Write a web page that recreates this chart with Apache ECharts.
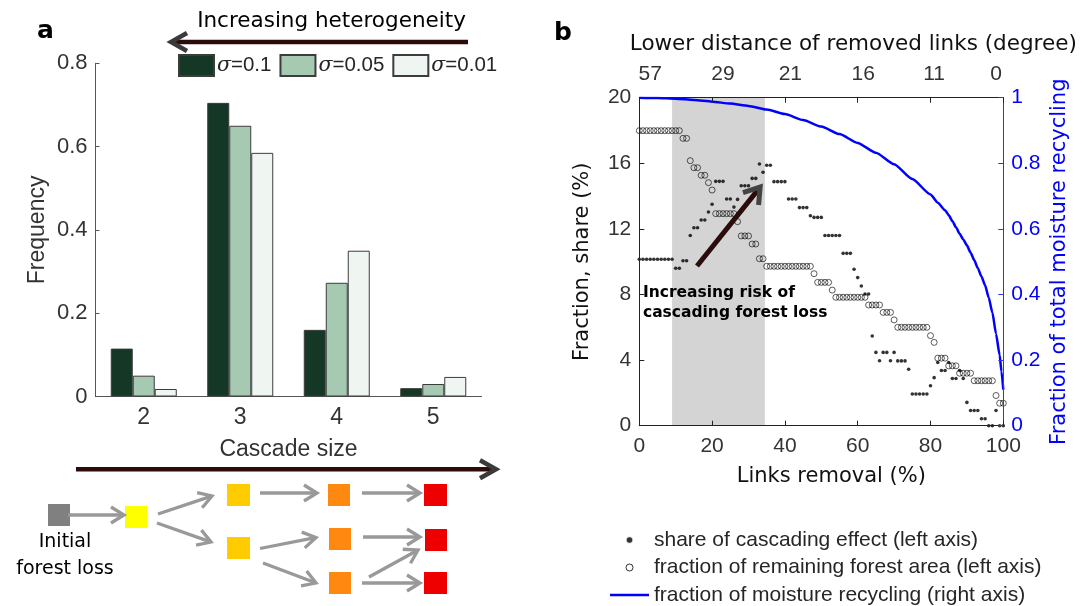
<!DOCTYPE html>
<html><head><meta charset="utf-8">
<script src="https://cdn.jsdelivr.net/npm/echarts@6/dist/echarts.min.js"></script>
<style>html,body{margin:0;padding:0;background:#fff}#c{width:1087px;height:606px}</style>
</head><body><div id="c"></div>
<script>
// ---------- Panel a data ----------
const cascadeSizes = ['2', '3', '4', '5'];
const sigmaNames = ['σ=0.1', 'σ=0.05', 'σ=0.01'];
const freqSigma01 = [0.115, 0.705, 0.160, 0.020];
const freqSigma005 = [0.050, 0.650, 0.273, 0.030];
const freqSigma001 = [0.018, 0.585, 0.350, 0.047];

// ---------- Panel b data ----------
const linksRemoval = [0,1,2,3,4,5,6,7,8,9,10,11,12,13,14,15,16,17,18,19,20,21,22,23,24,25,26,27,28,29,30,31,32,33,34,35,36,37,38,39,40,41,42,43,44,45,46,47,48,49,50,51,52,53,54,55,56,57,58,59,60,61,62,63,64,65,66,67,68,69,70,71,72,73,74,75,76,77,78,79,80,81,82,83,84,85,86,87,88,89,90,91,92,93,94,95,96,97,98,99,100];
const cascadeShare = [
  10.15,10.15,10.15,10.15,10.15,10.15,10.15,10.15,10.15,10.15,
  9.6,9.6,10.06,10.06,11.6,12.07,12.07,12.54,12.54,13.03,
  13.5,14.9,14.9,14.9,13.82,13.82,13.33,13.8,14.63,14.63,
  14.63,15.08,15.08,15.96,15.45,15.88,15.88,14.88,14.88,14.88,
  14.88,13.82,13.82,13.82,13.3,13.3,13.3,12.8,12.7,12.7,
  12.7,11.6,11.6,11.6,11.6,11.6,10.51,10.51,10.51,9.54,
  9.03,8.52,8.03,8.03,5.47,4.47,3.96,4.47,4.47,3.96,
  4.47,3.95,3.95,3.95,3.44,1.93,1.93,1.93,1.93,1.93,
  2.44,2.93,3.85,3.37,3.37,3.85,2.88,2.88,3.37,2.88,
  1.42,0.93,0.93,0.93,0.42,0.42,0,0,0.93,0,
  0];
const remainingForest = [
  17.99,17.99,17.99,17.99,17.99,17.99,17.99,17.99,17.99,17.99,
  17.99,17.99,17.52,17.52,16.16,15.73,15.73,15.27,15.27,14.82,
  14.37,12.93,12.93,12.93,12.93,12.93,12.93,12.44,11.57,11.57,
  11.57,11.08,11.08,10.18,10.18,9.72,9.72,9.72,9.72,9.72,
  9.72,9.72,9.72,9.72,9.72,9.72,9.72,9.72,9.27,8.74,
  8.74,8.74,8.74,8.27,7.83,7.83,7.83,7.83,7.83,7.83,
  7.83,7.83,7.83,7.36,7.36,7.36,7.36,6.91,6.91,6.91,
  6.45,6.0,6.0,6.0,6.0,6.0,6.0,6.0,6.0,6.0,
  5.49,5.08,4.12,4.12,4.12,3.65,3.65,3.65,3.2,3.2,
  3.2,3.2,2.74,2.74,2.74,2.74,2.74,2.74,1.84,1.37,
  1.37];
const moistureX = [0,5,10,15,20,25,30,35,40,45,50,55,60,65,70,75,80,82,84,85,86,87,88,89,90,91,92,93,94,95,96,97,98,99,99.5,100];
const moistureFrac = [1.0,0.999,0.997,0.993,0.988,0.982,0.975,0.964,0.950,0.932,0.912,0.889,0.862,0.832,0.797,0.752,0.705,0.68,0.657,0.642,0.624,0.605,0.585,0.568,0.55,0.528,0.505,0.48,0.455,0.428,0.39,0.345,0.28,0.215,0.165,0.11];
const topTickAt = [3, 23, 41.5, 61.5, 81, 98];
const topTickLabels = ['57', '29', '21', '16', '11', '0'];
const riskBand = [9, 34.5];
const riskArrow = [[15.85, 9.74], [33.2, 14.55]];
const riskLabelAt = [1.0, 7.5];
const legendB = ['share of cascading effect (left axis)', 'fraction of remaining forest area (left axis)', 'fraction of moisture recycling (right axis)'];

const SANS = 'Liberation Sans, Arial, sans-serif';
const VERD = 'DejaVu Sans, Verdana, sans-serif';

const chart = echarts.init(document.getElementById('c'));

const option = {
  animation: false,
  backgroundColor: '#fff',
  grid: [
    {left: 95.5, top: 63.3, width: 386, height: 333.2, outerBoundsMode: 'none'},
    {left: 639.3, top: 97.7, width: 364, height: 328, outerBoundsMode: 'none'}
  ],
  legend: [
    {
      data: sigmaNames, left: 178, top: 54, padding: 0, itemWidth: 35, itemHeight: 21, itemGap: 8,
      selectedMode: false, icon: 'rect',
      formatter: n => '{s|σ}' + n.slice(1),
      textStyle: {fontSize: 20.5, fontFamily: SANS, color: '#262626', padding: [0,0,0,-2],
        rich: {s: {fontSize: 20.5, fontStyle: 'italic', fontFamily: 'DejaVu Serif, serif', color: '#262626'}}}
    },
    {
      data: [
        {name: legendB[0], icon: 'circle', itemStyle: {color: '#000', borderColor: '#fff', borderWidth: 1.5}},
        {name: legendB[1], icon: 'circle', itemStyle: {color: 'rgba(0,0,0,0)', borderColor: '#000', borderWidth: 1}},
        {name: legendB[2], icon: 'path://M0,0H40V2.6H0Z', itemStyle: {color: '#0000ff'}}
      ],
      orient: 'vertical', left: 610, top: 529.5, height: 120, padding: 0,
      itemWidth: 39, itemHeight: 7, itemGap: 6.5,
      selectedMode: false,
      textStyle: {fontSize: 21, fontFamily: SANS, color: '#262626', lineHeight: 20}
    }
  ],
  xAxis: [
    {
      gridIndex: 0, type: 'category', data: cascadeSizes,
      axisLine: {lineStyle: {color: '#555', width: 1}}, axisTick: {show: false},
      axisLabel: {fontSize: 23, color: '#333', margin: 10, fontFamily: SANS},
      name: 'Cascade size', nameLocation: 'middle', nameGap: 42,
      nameTextStyle: {fontSize: 23, color: '#333', fontFamily: SANS}
    },
    {
      gridIndex: 1, type: 'value', position: 'bottom', min: 0, max: 100, interval: 20, z: 5,
      axisLine: {show: true, onZero: false, lineStyle: {color: '#222', width: 1}},
      axisTick: {show: true, inside: true, length: 5, lineStyle: {color: '#222'}},
      axisLabel: {fontSize: 21, color: '#333', margin: 10, fontFamily: SANS},
      splitLine: {show: false},
      name: 'Links removal (%)', nameLocation: 'middle', nameGap: 40,
      nameTextStyle: {fontSize: 21, fontFamily: VERD, color: '#111', padding: [0, 0, 0, 20]}
    },
    {
      gridIndex: 1, type: 'value', position: 'top', min: 0, max: 100, interval: 20, z: 5,
      axisLine: {show: true, onZero: false, lineStyle: {color: '#222', width: 1}},
      axisTick: {show: true, inside: true, length: 5, lineStyle: {color: '#222'}},
      axisLabel: {
        customValues: topTickAt, fontSize: 21, color: '#333', margin: 13, fontFamily: SANS,
        formatter: v => { const i = topTickAt.findIndex(t => Math.abs(t - v) < 1e-6); return i >= 0 ? topTickLabels[i] : ''; }
      },
      splitLine: {show: false},
      name: 'Lower distance of removed links (degree)', nameLocation: 'middle', nameGap: 42,
      nameTextStyle: {fontSize: 21.5, fontFamily: VERD, color: '#111', padding: [0, 0, 0, 64]}
    }
  ],
  yAxis: [
    {
      gridIndex: 0, type: 'value', min: 0, max: 0.8, interval: 0.2,
      axisLine: {show: true, lineStyle: {color: '#555', width: 1}},
      axisTick: {show: true, inside: true, length: 4, lineStyle: {color: '#555'}},
      splitLine: {show: false},
      axisLabel: {fontSize: 22, color: '#333', margin: 8, fontFamily: SANS},
      name: 'Frequency', nameLocation: 'middle', nameGap: 46, nameRotate: 90,
      nameTextStyle: {fontSize: 23, color: '#333', fontFamily: SANS}
    },
    {
      gridIndex: 1, type: 'value', position: 'left', min: 0, max: 20, interval: 4, z: 5,
      axisLine: {show: true, onZero: false, lineStyle: {color: '#222', width: 1}},
      axisTick: {show: true, inside: true, length: 5, lineStyle: {color: '#222'}},
      splitLine: {show: false},
      axisLabel: {fontSize: 21, color: '#333', margin: 8, fontFamily: SANS},
      name: 'Fraction, share (%)', nameLocation: 'middle', nameGap: 46, nameRotate: 90,
      nameTextStyle: {fontSize: 21, color: '#111', fontFamily: VERD}
    },
    {
      gridIndex: 1, type: 'value', position: 'right', min: 0, max: 1, interval: 0.2, z: 5,
      axisLine: {show: true, onZero: false, lineStyle: {color: '#3030ff', width: 1}},
      axisTick: {show: true, inside: true, length: 5, lineStyle: {color: '#3030ff'}},
      splitLine: {show: false},
      axisLabel: {fontSize: 21, color: '#0000ff', margin: 8, fontFamily: SANS},
      name: 'Fraction of total moisture recycling', nameLocation: 'middle', nameGap: 46, nameRotate: 90,
      nameTextStyle: {fontSize: 21, color: '#0000ff', fontFamily: VERD}
    }
  ],
  series: [
    {type: 'bar', name: sigmaNames[0], xAxisIndex: 0, yAxisIndex: 0, data: freqSigma01, barWidth: 22, barGap: '0%',
      itemStyle: {color: '#143726', borderColor: '#3c3c3c', borderWidth: 1}},
    {type: 'bar', name: sigmaNames[1], xAxisIndex: 0, yAxisIndex: 0, data: freqSigma005, barWidth: 22, barGap: '0%',
      itemStyle: {color: '#a6c9b1', borderColor: '#3c3c3c', borderWidth: 1}},
    {type: 'bar', name: sigmaNames[2], xAxisIndex: 0, yAxisIndex: 0, data: freqSigma001, barWidth: 22, barGap: '0%',
      itemStyle: {color: '#eff6f1', borderColor: '#3c3c3c', borderWidth: 1}},
    {type: 'line', name: 'risk band', xAxisIndex: 1, yAxisIndex: 1, data: [], z: 1, silent: true,
      markArea: {silent: true, itemStyle: {color: '#d4d4d4', opacity: 1},
        data: [[{xAxis: riskBand[0]}, {xAxis: riskBand[1]}]]}},
    {type: 'scatter', name: legendB[1], xAxisIndex: 1, yAxisIndex: 1, z: 3,
      data: linksRemoval.map((x, i) => [x, remainingForest[i]]),
      symbol: 'circle', symbolSize: 6,
      itemStyle: {color: 'rgba(0,0,0,0)', borderColor: '#000', borderWidth: 0.8}},
    {type: 'scatter', name: legendB[0], xAxisIndex: 1, yAxisIndex: 1, z: 4,
      data: linksRemoval.map((x, i) => [x, cascadeShare[i]]),
      symbol: 'circle', symbolSize: 3.6, itemStyle: {color: '#000'}},
    {type: 'line', name: legendB[2], xAxisIndex: 1, yAxisIndex: 2, z: 4,
      data: moistureX.map((x, i) => [x, moistureFrac[i]]),
      symbol: 'none', smooth: 0.2, smoothMonotone: 'x',
      lineStyle: {color: '#0000ff', width: 2.5}, itemStyle: {color: '#0000ff'}}
  ]
};
chart.setOption(option);

// ---------- annotations ----------
function chevron(tip, from, len, spread, color, width) {
  const dx = tip[0] - from[0], dy = tip[1] - from[1];
  const L = Math.hypot(dx, dy), ux = dx / L, uy = dy / L, px = -uy, py = ux;
  return {type: 'polyline', shape: {points: [
      [tip[0] - len * ux + spread * px, tip[1] - len * uy + spread * py],
      tip,
      [tip[0] - len * ux - spread * px, tip[1] - len * uy - spread * py]]},
    style: {stroke: color, lineWidth: width, fill: null, lineJoin: 'miter', lineCap: 'butt'}, z: 20};
}
function shaft(a, b, color, width) {
  return {type: 'line', shape: {x1: a[0], y1: a[1], x2: b[0], y2: b[1]},
    style: {stroke: color, lineWidth: width, lineCap: 'butt'}, z: 19};
}
function arrow(a, b, color, width, headColor, len, spread) {
  const dx = b[0] - a[0], dy = b[1] - a[1], L = Math.hypot(dx, dy);
  const end = [b[0] - dx / L * 2, b[1] - dy / L * 2];
  return [shaft(a, end, color, width), chevron(b, a, len, spread, headColor || color, width)];
}
function txt(x, y, text, size, opts) {
  return {type: 'text', x: x, y: y, z: 25,
    style: Object.assign({text: text, fontSize: size, fontFamily: VERD, fill: '#000', align: 'center', verticalAlign: 'middle'}, opts || {})};
}
function sq(x, y, w, h, c) {
  return {type: 'rect', shape: {x: x, y: y, width: w, height: h}, style: {fill: c}, z: 18};
}

const G = [];
const DARK = '#2c0b0b', HEAD = '#3a3a3a', GRAY = '#999999';
G.push(txt(45.5, 31, 'a', 25, {fontWeight: 'bold'}));
G.push(txt(563, 33, 'b', 25, {fontWeight: 'bold'}));
G.push(txt(331.5, 21.5, 'Increasing heterogeneity', 21.5));
G.push(...arrow([468, 42], [171, 42], DARK, 4.5, HEAD, 16, 9));
G.push(...arrow([76, 469.3], [496, 469.3], DARK, 4.5, HEAD, 16, 9));
// schematic squares
G.push(sq(48, 504, 22, 22, '#808080'));
G.push(sq(125, 506, 22, 22, '#ffff00'));
G.push(sq(227, 484, 23, 22, '#ffcc00'), sq(227, 537, 23, 22, '#ffcc00'));
G.push(sq(328, 484, 22, 22, '#ff8811'), sq(329, 528, 22, 22, '#ff8811'), sq(329, 572, 22, 22, '#ff8811'));
G.push(sq(424, 484, 23, 22, '#ee0000'), sq(425, 529, 22, 22, '#ee0000'), sq(424, 572, 23, 22, '#ee0000'));
// schematic arrows
[
  [[68, 515], [124, 515]],
  [[158, 514], [212, 496]],
  [[157, 523], [211, 542]],
  [[260, 493], [317, 493]],
  [[260, 548.5], [316, 537.5]],
  [[263, 563], [316, 583]],
  [[362, 493], [420, 493]],
  [[363, 537], [420, 537]],
  [[369, 577], [418, 550]],
  [[362, 583], [420, 583]]
].forEach(p => G.push(...arrow(p[0], p[1], GRAY, 3.3, GRAY, 13, 8)));
G.push(txt(65, 555.5, 'Initial\nforest loss', 19, {lineHeight: 27}));

// panel b arrow & label anchored in data coordinates
const pA = chart.convertToPixel({xAxisIndex: 1, yAxisIndex: 1}, riskArrow[0]);
const pB = chart.convertToPixel({xAxisIndex: 1, yAxisIndex: 1}, riskArrow[1]);
G.push(...arrow(pA, pB, DARK, 5, '#444444', 15, 10));
const pL = chart.convertToPixel({xAxisIndex: 1, yAxisIndex: 1}, riskLabelAt);
G.push(txt(pL[0], pL[1], 'Increasing risk of\ncascading forest loss', 15.5, {fontWeight: 'bold', align: 'left', lineHeight: 20}));

chart.setOption({graphic: G});
</script>
</body></html>
